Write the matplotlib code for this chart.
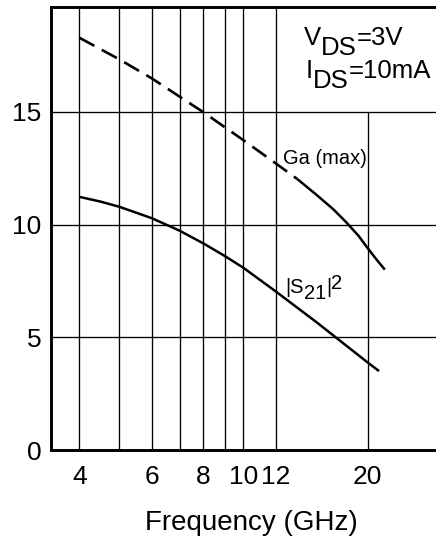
import matplotlib
matplotlib.use('Agg')
import matplotlib.pyplot as plt
from matplotlib.ticker import NullLocator
from matplotlib.transforms import offset_copy

plt.rcParams['font.family'] = ['Liberation Sans', 'DejaVu Sans']

# Ga (max): dashed part (low frequencies) and solid part, GHz / dB
ga_dash_freq = [4, 5, 6, 8, 10, 12, 13.5]
ga_dash_gain = [18.29, 17.33, 16.48, 14.98, 13.74, 12.70, 12.02]
ga_solid_freq = [13.5, 15, 16.5, 17.7, 19, 20, 21, 22]
ga_solid_gain = [12.02, 11.33, 10.68, 10.12, 9.5, 8.95, 8.45, 8.0]

# |S21|^2
s21_freq = [4, 4.5, 5, 6, 7, 8, 9, 10, 12, 15, 20, 21.3]
s21_gain = [11.23, 11.02, 10.79, 10.28, 9.73, 9.16, 8.61, 8.08, 7.02, 5.68, 3.88, 3.5]

# grid and ticks
grid_freqs = [4, 5, 6, 7, 8, 9, 10, 12]
grid_freq_short = [20]     # this one stops at 15 dB (under the bias box)
grid_gains = [5, 10, 15]
xtick_freqs = [4, 6, 8, 10, 12, 20]
xtick_labels = ['4', '6', '8', '10', '12', '20']
ytick_gains = [0, 5, 10, 15]
ytick_labels = ['0', '5', '10', '15']

x_min, x_max = 3.417, 29.27
y_min, y_max = 0, 19.65


def put_pieces(ax, x, y, pieces, size):
    # draws text pieces one after another, each with its own drop in pixels
    fig = ax.figure
    renderer = fig.canvas.get_renderer()
    dx = 0
    for s, drop in pieces:
        tr = offset_copy(ax.transAxes, fig=fig, x=dx, y=-drop, units='dots')
        t = ax.text(x, y, s, fontsize=size, transform=tr,
                    ha='left', va='baseline')
        dx += t.get_window_extent(renderer).width


fig = plt.figure(figsize=(4.36, 5.40), dpi=100)
ax = fig.add_axes([51 / 436, 90 / 540, 385 / 436, 443 / 540])

ax.set_xscale('log')
ax.set_xlim(x_min, x_max)
ax.set_ylim(y_min, y_max)

# grid lines
ax.vlines(grid_freqs, y_min, y_max, colors='black', linewidth=0.95)
ax.vlines(grid_freq_short, y_min, 15, colors='black', linewidth=0.95)
ax.hlines(grid_gains, x_min, x_max, colors='black', linewidth=0.95)

# curves
ax.plot(ga_dash_freq, ga_dash_gain, color='black', linewidth=1.9,
        dashes=(6.5, 3.2))
ax.plot(ga_solid_freq, ga_solid_gain, color='black', linewidth=1.8,
        solid_capstyle='butt')
ax.plot(s21_freq, s21_gain, color='black', linewidth=1.8,
        solid_capstyle='butt')

# axes styling
for side in ['left', 'bottom', 'top']:
    ax.spines[side].set_linewidth(2.1)
ax.spines['right'].set_visible(False)

ax.set_xticks(xtick_freqs, labels=xtick_labels)
ax.xaxis.set_minor_locator(NullLocator())
ax.set_yticks(ytick_gains, labels=ytick_labels)
ax.tick_params(axis='both', length=0, labelsize=19)
ax.tick_params(axis='x', pad=11)
ax.tick_params(axis='y', pad=7)

fig.text(251 / 436, 1 - 523 / 540, 'Frequency (GHz)', fontsize=20,
         ha='center', va='center')

# curve labels
ax.text(12.5, 12.92, 'Ga (max)', fontsize=14.5, ha='left', va='center')
put_pieces(ax, 0.608, 0.354, [('|S', 0), ('21', 5.5), ('|', 0), ('2', -4)], 14.5)

# bias conditions
put_pieces(ax, 0.657, 0.914, [('V', 0), ('DS', 10), ('=3V', 0)], 18.5)
put_pieces(ax, 0.662, 0.840, [('I', 0), ('DS', 10), ('=10mA', 0)], 18.5)

fig.savefig('out.png', dpi=100)
